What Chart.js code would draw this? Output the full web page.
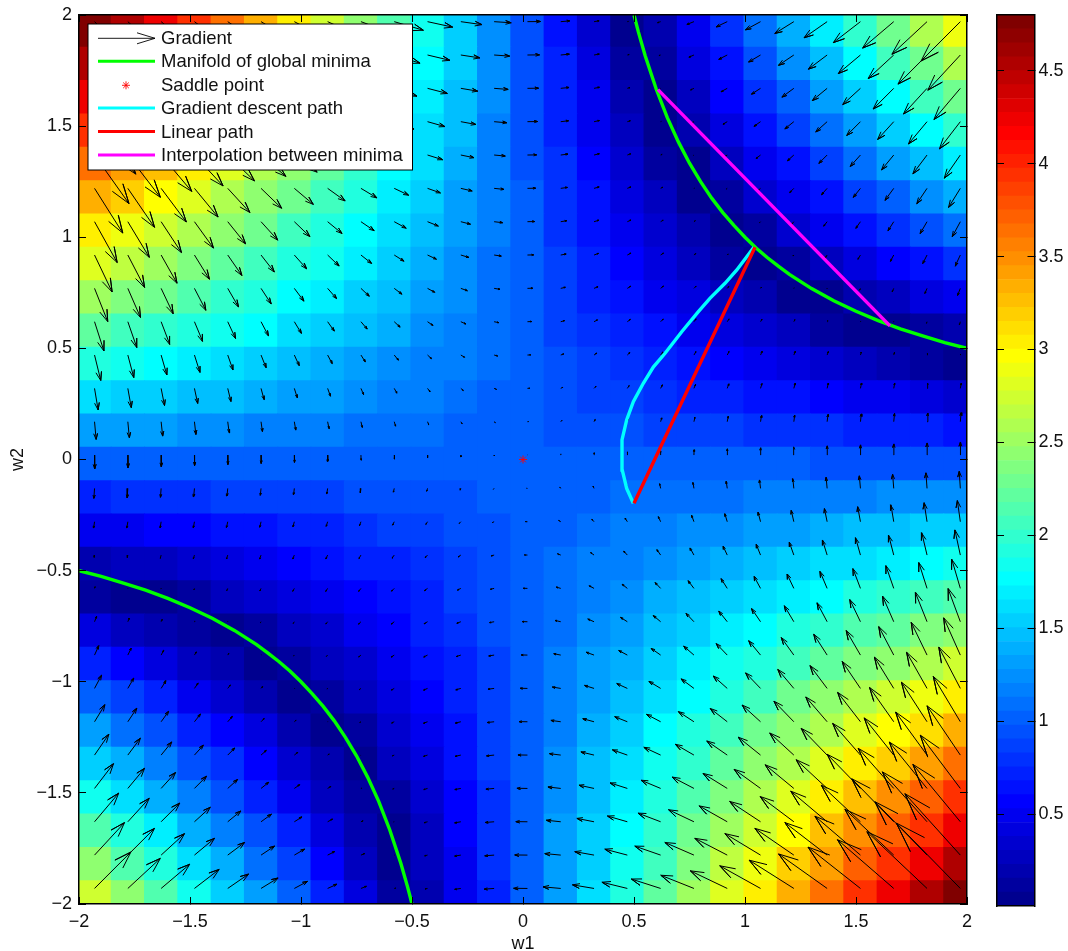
<!DOCTYPE html>
<html>
<head>
<meta charset="utf-8">
<title>Error surface</title>
<script src="https://cdn.jsdelivr.net/npm/chart.js@4/dist/chart.umd.min.js"></script>
<style>
html,body{margin:0;padding:0;background:#fff}
#wrap{position:relative;width:1068px;height:951px;overflow:hidden}
canvas{position:absolute;top:0}
#main{left:0}
#bar{left:996px}
</style>
</head>
<body>
<div id="wrap">
<canvas id="main" width="1068" height="951"></canvas>
<canvas id="bar" width="72" height="951"></canvas>
</div>
<script>
const gridW1=[-1.93,-1.78,-1.63,-1.48,-1.33,-1.18,-1.03,-.88,-.73,-.58,-.43,-.28,-.13,.02,.17,.32,.47,.62,.77,.92,1.07,1.22,1.37,1.52,1.67,1.82,1.97];
const gridW2=[1.97,1.82,1.67,1.52,1.37,1.22,1.07,.92,.77,.62,.47,.32,.17,.02,-.13,-.28,-.43,-.58,-.73,-.88,-1.03,-1.18,-1.33,-1.48,-1.63,-1.78,-1.93];
const heatValues=[
[4.80,4.51,4.21,3.92,3.62,3.32,3.03,2.73,2.44,2.14,1.85,1.55,1.26,.96,.67,.37,.07,.22,.52,.81,1.11,1.40,1.70,1.99,2.29,2.59,2.88],
[4.51,4.24,3.97,3.69,3.42,3.15,2.87,2.60,2.33,2.06,1.78,1.51,1.24,.96,.69,.42,.14,.13,.40,.67,.95,1.22,1.49,1.77,2.04,2.31,2.59],
[4.22,3.97,3.72,3.47,3.22,2.97,2.72,2.47,2.22,1.97,1.72,1.47,1.22,.97,.72,.47,.22,.04,.29,.54,.79,1.04,1.29,1.54,1.79,2.04,2.29],
[3.93,3.71,3.48,3.25,3.02,2.79,2.57,2.34,2.11,1.88,1.65,1.43,1.20,.97,.74,.51,.29,.06,.17,.40,.63,.85,1.08,1.31,1.54,1.77,1.99],
[3.64,3.44,3.23,3.03,2.82,2.62,2.41,2.21,2.00,1.79,1.59,1.38,1.18,.97,.77,.56,.36,.15,.05,.26,.47,.67,.88,1.08,1.29,1.49,1.70],
[3.35,3.17,2.99,2.81,2.62,2.44,2.26,2.07,1.89,1.71,1.52,1.34,1.16,.98,.79,.61,.43,.24,.06,.12,.31,.49,.67,.85,1.04,1.22,1.40],
[3.07,2.90,2.74,2.58,2.42,2.26,2.10,1.94,1.78,1.62,1.46,1.30,1.14,.98,.82,.66,.50,.34,.18,.02,.14,.31,.47,.63,.79,.95,1.11],
[2.78,2.64,2.50,2.36,2.22,2.09,1.95,1.81,1.67,1.53,1.40,1.26,1.12,.98,.84,.71,.57,.43,.29,.15,.02,.12,.26,.40,.54,.67,.81],
[2.49,2.37,2.26,2.14,2.02,1.91,1.79,1.68,1.56,1.45,1.33,1.22,1.10,.98,.87,.75,.64,.52,.41,.29,.18,.06,.05,.17,.29,.40,.52],
[2.20,2.10,2.01,1.92,1.82,1.73,1.64,1.55,1.45,1.36,1.27,1.17,1.08,.99,.89,.80,.71,.62,.52,.43,.34,.24,.15,.06,.04,.13,.22],
[1.91,1.84,1.77,1.70,1.63,1.55,1.48,1.41,1.34,1.27,1.20,1.13,1.06,.99,.92,.85,.78,.71,.64,.57,.50,.43,.36,.29,.22,.14,.07],
[1.62,1.57,1.52,1.47,1.43,1.38,1.33,1.28,1.23,1.19,1.14,1.09,1.04,.99,.95,.90,.85,.80,.75,.71,.66,.61,.56,.51,.47,.42,.37],
[1.33,1.30,1.28,1.25,1.23,1.20,1.18,1.15,1.12,1.10,1.07,1.05,1.02,1.00,.97,.95,.92,.89,.87,.84,.82,.79,.77,.74,.72,.69,.67],
[1.04,1.04,1.03,1.03,1.03,1.02,1.02,1.02,1.01,1.01,1.01,1.01,1.00,1.00,1.00,.99,.99,.99,.98,.98,.98,.98,.97,.97,.97,.96,.96],
[.75,.77,.79,.81,.83,.85,.87,.89,.91,.92,.94,.96,.98,1.00,1.02,1.04,1.06,1.08,1.10,1.12,1.14,1.16,1.18,1.20,1.22,1.24,1.26],
[.46,.50,.54,.59,.63,.67,.71,.75,.80,.84,.88,.92,.96,1.01,1.05,1.09,1.13,1.17,1.22,1.26,1.30,1.34,1.38,1.43,1.47,1.51,1.55],
[.17,.23,.30,.36,.43,.49,.56,.62,.69,.75,.82,.88,.94,1.01,1.07,1.14,1.20,1.27,1.33,1.40,1.46,1.52,1.59,1.65,1.72,1.78,1.85],
[.12,.03,.05,.14,.23,.32,.40,.49,.58,.66,.75,.84,.92,1.01,1.10,1.19,1.27,1.36,1.45,1.53,1.62,1.71,1.79,1.88,1.97,2.06,2.14],
[.41,.30,.19,.08,.03,.14,.25,.36,.47,.58,.69,.80,.91,1.01,1.12,1.23,1.34,1.45,1.56,1.67,1.78,1.89,2.00,2.11,2.22,2.33,2.44],
[.70,.57,.43,.30,.17,.04,.09,.23,.36,.49,.62,.75,.89,1.02,1.15,1.28,1.41,1.55,1.68,1.81,1.94,2.07,2.21,2.34,2.47,2.60,2.73],
[.99,.83,.68,.52,.37,.22,.06,.09,.25,.40,.56,.71,.87,1.02,1.18,1.33,1.48,1.64,1.79,1.95,2.10,2.26,2.41,2.57,2.72,2.87,3.03],
[1.28,1.10,.92,.75,.57,.39,.22,.04,.14,.32,.49,.67,.85,1.02,1.20,1.38,1.55,1.73,1.91,2.09,2.26,2.44,2.62,2.79,2.97,3.15,3.32],
[1.57,1.37,1.17,.97,.77,.57,.37,.17,.03,.23,.43,.63,.83,1.03,1.23,1.43,1.63,1.82,2.02,2.22,2.42,2.62,2.82,3.02,3.22,3.42,3.62],
[1.86,1.63,1.41,1.19,.97,.75,.52,.30,.08,.14,.36,.59,.81,1.03,1.25,1.47,1.70,1.92,2.14,2.36,2.58,2.81,3.03,3.25,3.47,3.69,3.92],
[2.15,1.90,1.66,1.41,1.17,.92,.68,.43,.19,.05,.30,.54,.79,1.03,1.28,1.52,1.77,2.01,2.26,2.50,2.74,2.99,3.23,3.48,3.72,3.97,4.21],
[2.44,2.17,1.90,1.63,1.37,1.10,.83,.57,.30,.03,.23,.50,.77,1.04,1.30,1.57,1.84,2.10,2.37,2.64,2.90,3.17,3.44,3.71,3.97,4.24,4.51],
[2.72,2.44,2.15,1.86,1.57,1.28,.99,.70,.41,.12,.17,.46,.75,1.04,1.33,1.62,1.91,2.20,2.49,2.78,3.07,3.35,3.64,3.93,4.22,4.51,4.80]
];
const arrowU=[
[9.46,8.88,8.30,7.71,7.13,6.55,5.97,5.39,4.80,4.22,3.64,3.06,2.47,1.89,1.31,.73,.15,-.44,-1.02,-1.60,-2.18,-2.76,-3.35,-3.93,-4.51,-5.09,-5.68],
[8.21,7.72,7.22,6.72,6.23,5.73,5.23,4.73,4.24,3.74,3.24,2.75,2.25,1.75,1.25,.76,.26,-.24,-.73,-1.23,-1.73,-2.22,-2.72,-3.22,-3.71,-4.21,-4.71],
[7.05,6.63,6.22,5.80,5.38,4.96,4.54,4.12,3.71,3.29,2.87,2.45,2.03,1.61,1.20,.78,.36,-.06,-.48,-.90,-1.31,-1.73,-2.15,-2.57,-2.99,-3.41,-3.82],
[5.98,5.63,5.29,4.94,4.59,4.25,3.90,3.55,3.21,2.86,2.51,2.17,1.82,1.47,1.13,.78,.43,.09,-.26,-.61,-.95,-1.30,-1.65,-1.99,-2.34,-2.69,-3.03],
[4.99,4.71,4.43,4.15,3.87,3.59,3.30,3.02,2.74,2.46,2.18,1.90,1.61,1.33,1.05,.77,.49,.21,-.08,-.36,-.64,-.92,-1.20,-1.48,-1.77,-2.05,-2.33],
[4.09,3.87,3.65,3.42,3.20,2.98,2.75,2.53,2.31,2.08,1.86,1.64,1.41,1.19,.97,.74,.52,.30,.07,-.15,-.37,-.60,-.82,-1.04,-1.27,-1.49,-1.71],
[3.28,3.11,2.94,2.76,2.59,2.42,2.25,2.08,1.91,1.73,1.56,1.39,1.22,1.05,.88,.70,.53,.36,.19,.02,-.15,-.32,-.50,-.67,-.84,-1.01,-1.18],
[2.55,2.43,2.30,2.17,2.05,1.92,1.79,1.66,1.54,1.41,1.28,1.16,1.03,.90,.78,.65,.52,.40,.27,.14,.01,-.11,-.24,-.37,-.49,-.62,-.75],
[1.91,1.83,1.74,1.65,1.56,1.47,1.38,1.29,1.20,1.11,1.03,.94,.85,.76,.67,.58,.49,.40,.31,.22,.14,.05,-.04,-.13,-.22,-.31,-.40],
[1.36,1.30,1.25,1.19,1.13,1.07,1.02,.96,.90,.84,.78,.73,.67,.61,.55,.50,.44,.38,.32,.27,.21,.15,.09,.03,-.02,-.08,-.14],
[.90,.86,.83,.80,.76,.73,.70,.66,.63,.60,.56,.53,.50,.47,.43,.40,.37,.33,.30,.27,.23,.20,.17,.13,.10,.07,.03],
[.52,.50,.49,.47,.46,.44,.43,.41,.39,.38,.36,.35,.33,.32,.30,.29,.27,.26,.24,.23,.21,.20,.18,.16,.15,.13,.12],
[.23,.22,.22,.21,.21,.20,.20,.20,.19,.19,.18,.18,.17,.17,.17,.16,.16,.15,.15,.14,.14,.13,.13,.13,.12,.12,.11],
[.02,.02,.02,.02,.02,.02,.02,.02,.02,.02,.02,.02,.02,.02,.02,.02,.02,.02,.02,.02,.02,.02,.02,.02,.02,.02,.02],
[-.10,-.10,-.10,-.11,-.11,-.11,-.11,-.12,-.12,-.12,-.12,-.12,-.13,-.13,-.13,-.14,-.14,-.14,-.14,-.15,-.15,-.15,-.15,-.16,-.16,-.16,-.16],
[-.13,-.14,-.15,-.16,-.18,-.19,-.20,-.21,-.22,-.24,-.25,-.26,-.27,-.28,-.29,-.31,-.32,-.33,-.34,-.35,-.36,-.38,-.39,-.40,-.41,-.42,-.43],
[-.07,-.10,-.13,-.16,-.18,-.21,-.24,-.27,-.29,-.32,-.35,-.38,-.41,-.43,-.46,-.49,-.52,-.54,-.57,-.60,-.63,-.66,-.68,-.71,-.74,-.77,-.79],
[.07,.02,-.03,-.08,-.13,-.18,-.23,-.28,-.33,-.39,-.44,-.49,-.54,-.59,-.64,-.69,-.74,-.79,-.84,-.89,-.94,-.99,-1.04,-1.09,-1.14,-1.19,-1.24],
[.30,.22,.14,.06,-.02,-.10,-.18,-.26,-.34,-.42,-.50,-.58,-.66,-.74,-.82,-.90,-.98,-1.06,-1.14,-1.22,-1.30,-1.38,-1.46,-1.54,-1.62,-1.70,-1.78],
[.61,.50,.38,.27,.15,.03,-.08,-.20,-.32,-.43,-.55,-.66,-.78,-.90,-1.01,-1.13,-1.24,-1.36,-1.48,-1.59,-1.71,-1.82,-1.94,-2.06,-2.17,-2.29,-2.41],
[1.02,.86,.70,.54,.38,.22,.06,-.10,-.26,-.41,-.57,-.73,-.89,-1.05,-1.21,-1.37,-1.53,-1.69,-1.85,-2.01,-2.16,-2.32,-2.48,-2.64,-2.80,-2.96,-3.12],
[1.51,1.30,1.09,.88,.67,.46,.25,.05,-.16,-.37,-.58,-.79,-1.00,-1.21,-1.42,-1.63,-1.83,-2.04,-2.25,-2.46,-2.67,-2.88,-3.09,-3.30,-3.50,-3.71,-3.92],
[2.08,1.82,1.55,1.29,1.02,.76,.49,.23,-.04,-.30,-.57,-.83,-1.10,-1.37,-1.63,-1.90,-2.16,-2.43,-2.69,-2.96,-3.22,-3.49,-3.75,-4.02,-4.28,-4.55,-4.82],
[2.75,2.42,2.09,1.76,1.43,1.11,.78,.45,.12,-.21,-.54,-.87,-1.19,-1.52,-1.85,-2.18,-2.51,-2.84,-3.17,-3.50,-3.82,-4.15,-4.48,-4.81,-5.14,-5.47,-5.80],
[3.50,3.10,2.70,2.30,1.90,1.51,1.11,.71,.31,-.09,-.49,-.89,-1.29,-1.68,-2.08,-2.48,-2.88,-3.28,-3.68,-4.08,-4.47,-4.87,-5.27,-5.67,-6.07,-6.47,-6.87],
[4.34,3.86,3.39,2.91,2.44,1.96,1.49,1.01,.54,.06,-.41,-.89,-1.36,-1.84,-2.31,-2.79,-3.26,-3.74,-4.21,-4.69,-5.16,-5.64,-6.12,-6.59,-7.07,-7.54,-8.02],
[5.26,4.70,4.14,3.58,3.02,2.47,1.91,1.35,.79,.23,-.33,-.89,-1.44,-2.00,-2.56,-3.12,-3.68,-4.24,-4.80,-5.35,-5.91,-6.47,-7.03,-7.59,-8.15,-8.71,-9.27]
];
const arrowV=[
[-9.27,-8.02,-6.87,-5.80,-4.82,-3.92,-3.12,-2.41,-1.78,-1.24,-.79,-.43,-.16,.02,.11,.12,.03,-.14,-.40,-.75,-1.18,-1.71,-2.33,-3.03,-3.82,-4.71,-5.68],
[-8.71,-7.54,-6.47,-5.47,-4.55,-3.71,-2.96,-2.29,-1.70,-1.19,-.77,-.42,-.16,.02,.12,.13,.07,-.08,-.31,-.62,-1.01,-1.49,-2.05,-2.69,-3.41,-4.21,-5.09],
[-8.15,-7.07,-6.07,-5.14,-4.28,-3.50,-2.80,-2.17,-1.62,-1.14,-.74,-.41,-.16,.02,.12,.15,.10,-.02,-.22,-.49,-.84,-1.27,-1.77,-2.34,-2.99,-3.71,-4.51],
[-7.59,-6.59,-5.67,-4.81,-4.02,-3.30,-2.64,-2.06,-1.54,-1.09,-.71,-.40,-.16,.02,.13,.16,.13,.03,-.13,-.37,-.67,-1.04,-1.48,-1.99,-2.57,-3.22,-3.93],
[-7.03,-6.12,-5.27,-4.48,-3.75,-3.09,-2.48,-1.94,-1.46,-1.04,-.68,-.39,-.15,.02,.13,.18,.17,.09,-.04,-.24,-.50,-.82,-1.20,-1.65,-2.15,-2.72,-3.35],
[-6.47,-5.64,-4.87,-4.15,-3.49,-2.88,-2.32,-1.82,-1.38,-.99,-.66,-.38,-.15,.02,.13,.20,.20,.15,.05,-.11,-.32,-.60,-.92,-1.30,-1.73,-2.22,-2.76],
[-5.91,-5.16,-4.47,-3.82,-3.22,-2.67,-2.16,-1.71,-1.30,-.94,-.63,-.36,-.15,.02,.14,.21,.23,.21,.14,.01,-.15,-.37,-.64,-.95,-1.31,-1.73,-2.18],
[-5.35,-4.69,-4.08,-3.50,-2.96,-2.46,-2.01,-1.59,-1.22,-.89,-.60,-.35,-.15,.02,.14,.23,.27,.27,.22,.14,.02,-.15,-.36,-.61,-.90,-1.23,-1.60],
[-4.80,-4.21,-3.68,-3.17,-2.69,-2.25,-1.85,-1.48,-1.14,-.84,-.57,-.34,-.14,.02,.15,.24,.30,.32,.31,.27,.19,.07,-.08,-.26,-.48,-.73,-1.02],
[-4.24,-3.74,-3.28,-2.84,-2.43,-2.04,-1.69,-1.36,-1.06,-.79,-.54,-.33,-.14,.02,.15,.26,.33,.38,.40,.40,.36,.30,.21,.09,-.06,-.24,-.44],
[-3.68,-3.26,-2.88,-2.51,-2.16,-1.83,-1.53,-1.24,-.98,-.74,-.52,-.32,-.14,.02,.16,.27,.37,.44,.49,.52,.53,.52,.49,.43,.36,.26,.15],
[-3.12,-2.79,-2.48,-2.18,-1.90,-1.63,-1.37,-1.13,-.90,-.69,-.49,-.31,-.14,.02,.16,.29,.40,.50,.58,.65,.70,.74,.77,.78,.78,.76,.73],
[-2.56,-2.31,-2.08,-1.85,-1.63,-1.42,-1.21,-1.01,-.82,-.64,-.46,-.29,-.13,.02,.17,.30,.43,.55,.67,.78,.88,.97,1.05,1.13,1.20,1.25,1.31],
[-2.00,-1.84,-1.68,-1.52,-1.37,-1.21,-1.05,-.90,-.74,-.59,-.43,-.28,-.13,.02,.17,.32,.47,.61,.76,.90,1.05,1.19,1.33,1.47,1.61,1.75,1.89],
[-1.44,-1.36,-1.29,-1.19,-1.10,-1.00,-.89,-.78,-.66,-.54,-.41,-.27,-.13,.02,.17,.33,.50,.67,.85,1.03,1.22,1.41,1.61,1.82,2.03,2.25,2.47],
[-.89,-.89,-.89,-.87,-.83,-.79,-.73,-.66,-.58,-.49,-.38,-.26,-.12,.02,.18,.35,.53,.73,.94,1.16,1.39,1.64,1.90,2.17,2.45,2.75,3.06],
[-.33,-.41,-.49,-.54,-.57,-.58,-.57,-.55,-.50,-.44,-.35,-.25,-.12,.02,.18,.36,.56,.78,1.03,1.28,1.56,1.86,2.18,2.51,2.87,3.24,3.64],
[.23,.06,-.09,-.21,-.30,-.37,-.41,-.43,-.42,-.39,-.32,-.24,-.12,.02,.19,.38,.60,.84,1.11,1.41,1.73,2.08,2.46,2.86,3.29,3.74,4.22],
[.79,.54,.31,.12,-.04,-.16,-.26,-.32,-.34,-.33,-.29,-.22,-.12,.02,.19,.39,.63,.90,1.20,1.54,1.91,2.31,2.74,3.21,3.71,4.24,4.80],
[1.35,1.01,.71,.45,.23,.05,-.10,-.20,-.26,-.28,-.27,-.21,-.12,.02,.20,.41,.66,.96,1.29,1.66,2.08,2.53,3.02,3.55,4.12,4.73,5.39],
[1.91,1.49,1.11,.78,.49,.25,.06,-.08,-.18,-.23,-.24,-.20,-.11,.02,.20,.43,.70,1.02,1.38,1.79,2.25,2.75,3.30,3.90,4.54,5.23,5.97],
[2.47,1.96,1.51,1.11,.76,.46,.22,.03,-.10,-.18,-.21,-.19,-.11,.02,.20,.44,.73,1.07,1.47,1.92,2.42,2.98,3.59,4.25,4.96,5.73,6.55],
[3.02,2.44,1.90,1.43,1.02,.67,.38,.15,-.02,-.13,-.18,-.18,-.11,.02,.21,.46,.76,1.13,1.56,2.05,2.59,3.20,3.87,4.59,5.38,6.23,7.13],
[3.58,2.91,2.30,1.76,1.29,.88,.54,.27,.06,-.08,-.16,-.16,-.11,.02,.21,.47,.80,1.19,1.65,2.17,2.76,3.42,4.15,4.94,5.80,6.72,7.71],
[4.14,3.39,2.70,2.09,1.55,1.09,.70,.38,.14,-.03,-.13,-.15,-.10,.02,.22,.49,.83,1.25,1.74,2.30,2.94,3.65,4.43,5.29,6.22,7.22,8.30],
[4.70,3.86,3.10,2.42,1.82,1.30,.86,.50,.22,.02,-.10,-.14,-.10,.02,.22,.50,.86,1.30,1.83,2.43,3.11,3.87,4.71,5.63,6.63,7.72,8.88],
[5.26,4.34,3.50,2.75,2.08,1.51,1.02,.61,.30,.07,-.07,-.13,-.10,.02,.23,.52,.90,1.36,1.91,2.55,3.28,4.09,4.99,5.98,7.05,8.21,9.46]
];
const manifoldUpperW1=[.5,.52,.55,.6,.65,.7,.75,.8,.85,.9,.95,1,1.05,1.1,1.15,1.2,1.3,1.4,1.5,1.6,1.7,1.8,1.9,2];
const manifoldUpperW2=[2,1.923,1.818,1.667,1.538,1.429,1.333,1.25,1.176,1.111,1.053,1,.952,.909,.87,.833,.769,.714,.667,.625,.588,.556,.526,.5];
const manifoldLowerW1=[-.5,-.52,-.55,-.6,-.65,-.7,-.75,-.8,-.85,-.9,-.95,-1,-1.05,-1.1,-1.15,-1.2,-1.3,-1.4,-1.5,-1.6,-1.7,-1.8,-1.9,-2];
const manifoldLowerW2=[-2,-1.923,-1.818,-1.667,-1.538,-1.429,-1.333,-1.25,-1.176,-1.111,-1.053,-1,-.952,-.909,-.87,-.833,-.769,-.714,-.667,-.625,-.588,-.556,-.526,-.5];
const descentW1=[.497,.467,.447,.446,.467,.497,.542,.587,.64,.715,.79,.842,.91,.963,1.04];
const descentW2=[-.197,-.13,-.047,.088,.178,.26,.343,.416,.478,.575,.665,.725,.793,.853,.955];
const linearW1=[.5,1.045];
const linearW2=[-.197,.955];
const interpW1=[.608,1.653];
const interpW2=[1.664,.601];
const saddleW1=[0];
const saddleW2=[0];
const axisTicks=[-2,-1.5,-1,-.5,0,.5,1,1.5,2];
const colorTicks=[.5,1,1.5,2,2.5,3,3.5,4,4.5];
const legendLabels=['Gradient','Manifold of global minima','Saddle point','Gradient descent path','Linear path','Interpolation between minima'];

const FONT='"Liberation Sans", Arial, Helvetica, sans-serif';
const CMIN=.005,CMAX=4.8,LEVELS=64;
Chart.defaults.font.family=FONT;
Chart.defaults.font.size=18;
Chart.defaults.color='#111';

function jet(k){
  const t=(k+1)/LEVELS;
  const c=v=>Math.round(255*Math.max(0,Math.min(1,v)));
  return 'rgb('+c(1.5-Math.abs(4*t-3))+','+c(1.5-Math.abs(4*t-2))+','+c(1.5-Math.abs(4*t-1))+')';
}
function colorFor(v){
  const k=Math.max(0,Math.min(LEVELS-1,Math.floor((v-CMIN)/(CMAX-CMIN)*LEVELS)));
  return jet(k);
}
const zip=(a,b)=>a.map((x,i)=>({x:x,y:b[i]}));
const fmt=v=>String(v).replace('-','\u2212');
const noPad=s=>{s.paddingTop=0;s.paddingBottom=0;s.paddingLeft=0;s.paddingRight=0;};

// heat cells are displayed slightly below their sample row, as in the reference image
const ROW_SHIFT=.04;
const heatPts=[],heatCols=[];
heatValues.forEach((row,i)=>row.forEach((v,j)=>{
  heatPts.push({x:gridW1[j],y:gridW2[i]-ROW_SHIFT});
  heatCols.push(colorFor(v));
}));

// quiver
const ARROW_SCALE=.0311,HEAD=.33;
const arrowPts=[];
arrowU.forEach((row,i)=>row.forEach((u0,j)=>{
  const x=gridW1[j],y=gridW2[i],u=u0*ARROW_SCALE,v=arrowV[i][j]*ARROW_SCALE;
  const tx=x+u,ty=y+v;
  arrowPts.push({x:x,y:y},{x:tx,y:ty},
    {x:tx-HEAD*(u+HEAD*v),y:ty-HEAD*(v-HEAD*u)},{x:tx,y:ty},
    {x:tx-HEAD*(u-HEAD*v),y:ty-HEAD*(v+HEAD*u)},{x:NaN,y:NaN});
}));

function lineSet(label,pts,color,w){
  return {label:label,data:pts,showLine:true,borderColor:color,backgroundColor:color,borderWidth:w,pointRadius:0,pointHoverRadius:0,tension:0,fill:false,spanGaps:false};
}

const legendPlugin={
  id:'boxLegend',
  afterDatasetsDraw(chart){
    const c=chart.ctx,L=88,T=24,R=412.5,B=170,x0=98,x1=155,tx=161;
    const ys=[38.3,61.3,85.3,108,131.5,155];
    c.save();
    c.fillStyle='#fff';c.fillRect(L,T,R-L,B-T);
    c.strokeStyle='#000';c.lineWidth=1;c.strokeRect(L,T,R-L,B-T);
    c.lineWidth=.9;c.beginPath();c.moveTo(x0,ys[0]);c.lineTo(x1,ys[0]);
    c.moveTo(137,ys[0]-5.5);c.lineTo(x1,ys[0]);c.lineTo(137,ys[0]+5.5);c.stroke();
    [[1,'#00ff00'],[3,'#00ffff'],[4,'#ff0000'],[5,'#ff00ff']].forEach(p=>{
      c.strokeStyle=p[1];c.lineWidth=3;c.beginPath();c.moveTo(x0,ys[p[0]]);c.lineTo(x1,ys[p[0]]);c.stroke();
    });
    c.strokeStyle='#ff0000';c.lineWidth=.9;c.beginPath();
    const sx=126,sy=ys[2],r=4;
    c.moveTo(sx-r,sy);c.lineTo(sx+r,sy);c.moveTo(sx,sy-r);c.lineTo(sx,sy+r);
    c.moveTo(sx-r*.7,sy-r*.7);c.lineTo(sx+r*.7,sy+r*.7);c.moveTo(sx-r*.7,sy+r*.7);c.lineTo(sx+r*.7,sy-r*.7);c.stroke();
    c.fillStyle='#111';c.font='18.5px '+FONT;c.textAlign='left';c.textBaseline='middle';
    legendLabels.forEach((t,i)=>c.fillText(t,tx,ys[i]+1));
    c.restore();
  }
};

const tickGrid={drawOnChartArea:false,drawTicks:true,tickLength:-7,color:'#000',lineWidth:1,z:1};
const frame={color:'#000',width:1.5,z:1};
new Chart(document.getElementById('main'),{
  type:'scatter',
  data:{datasets:[
    lineSet(legendLabels[5],zip(interpW1,interpW2),'#ff00ff',3.4),
    lineSet(legendLabels[4],zip(linearW1,linearW2),'#ff0000',3.4),
    lineSet(legendLabels[3],zip(descentW1,descentW2),'#00ffff',3.4),
    {label:legendLabels[2],data:zip(saddleW1,saddleW2),pointStyle:'star',pointRadius:4,pointBorderColor:'#ff0000',pointBorderWidth:.9,pointBackgroundColor:'#ff0000'},
    lineSet(legendLabels[1],zip(manifoldUpperW1,manifoldUpperW2),'#00ff00',3.4),
    lineSet(legendLabels[1]+' (lower)',zip(manifoldLowerW1,manifoldLowerW2),'#00ff00',3.4),
    lineSet(legendLabels[0],arrowPts,'#000',1),
    {label:'Error',data:heatPts,pointStyle:'rect',pointRadius:24.2,pointHoverRadius:24.2,pointBorderWidth:0,pointBackgroundColor:heatCols,pointBorderColor:heatCols}
  ]},
  options:{
    responsive:false,animation:false,
    events:[],
    layout:{autoPadding:false,padding:{left:0,top:15,right:101,bottom:0}},
    plugins:{legend:{display:false},tooltip:{enabled:false}},
    scales:{
      x:{type:'linear',position:'bottom',min:-2,max:2,
        afterFit(s){s.height=47;noPad(s);},
        afterBuildTicks(s){s.ticks=axisTicks.map(v=>({value:v}));},
        ticks:{padding:14,maxRotation:0,autoSkip:false,callback:fmt,color:'#111',font:{size:18}},
        grid:tickGrid,border:frame,
        title:{display:true,text:'w1',color:'#111',font:{size:18},padding:{top:0,bottom:-4}}},
      y:{type:'linear',position:'left',min:-2,max:2,
        afterFit(s){s.width=79;noPad(s);},
        afterBuildTicks(s){s.ticks=axisTicks.map(v=>({value:v}));},
        ticks:{padding:14,autoSkip:false,callback:fmt,color:'#111',font:{size:18}},
        grid:tickGrid,border:frame,
        title:{display:true,text:'w2',color:'#111',font:{size:18},padding:{top:7,bottom:0}}},
      xTop:{type:'linear',position:'top',min:-2,max:2,
        afterFit(s){s.height=0;noPad(s);},
        afterBuildTicks(s){s.ticks=axisTicks.map(v=>({value:v}));},
        ticks:{display:false},grid:tickGrid,border:frame},
      yRight:{type:'linear',position:'right',min:-2,max:2,
        afterFit(s){s.width=0;noPad(s);},
        afterBuildTicks(s){s.ticks=axisTicks.map(v=>({value:v}));},
        ticks:{display:false},grid:tickGrid,border:frame}
    }
  },
  plugins:[legendPlugin]
});

// colour bar
const step=(CMAX-CMIN)/LEVELS;
const barSets=[];
for(let k=0;k<LEVELS;k++){
  barSets.push({label:'level '+(k+1),data:[[CMIN+k*step,CMIN+(k+1)*step]],backgroundColor:jet(k),grouped:false,barPercentage:1,categoryPercentage:1,borderWidth:0});
}
new Chart(document.getElementById('bar'),{
  type:'bar',
  data:{labels:[''],datasets:barSets},
  options:{
    responsive:false,animation:false,events:[],
    layout:{autoPadding:false,padding:{left:1,top:15,right:0,bottom:45}},
    plugins:{legend:{display:false},tooltip:{enabled:false}},
    scales:{
      x:{type:'category',position:'bottom',afterFit(s){s.height=0;noPad(s);},ticks:{display:false},grid:{display:false},border:frame},
      xTop:{type:'linear',position:'top',min:0,max:1,afterFit(s){s.height=0;noPad(s);},ticks:{display:false},grid:{display:false},border:frame},
      y:{type:'linear',position:'right',min:CMIN,max:CMAX,
        afterFit(s){s.width=33.5;noPad(s);},
        afterBuildTicks(s){s.ticks=colorTicks.map(v=>({value:v}));},
        ticks:{padding:11,autoSkip:false,callback:fmt,color:'#111',font:{size:18}},
        grid:tickGrid,border:frame},
      yLeft:{type:'linear',position:'left',min:CMIN,max:CMAX,
        afterFit(s){s.width=0;noPad(s);},
        afterBuildTicks(s){s.ticks=colorTicks.map(v=>({value:v}));},
        ticks:{display:false},grid:tickGrid,border:frame}
    }
  }
});
</script>
</body>
</html>
